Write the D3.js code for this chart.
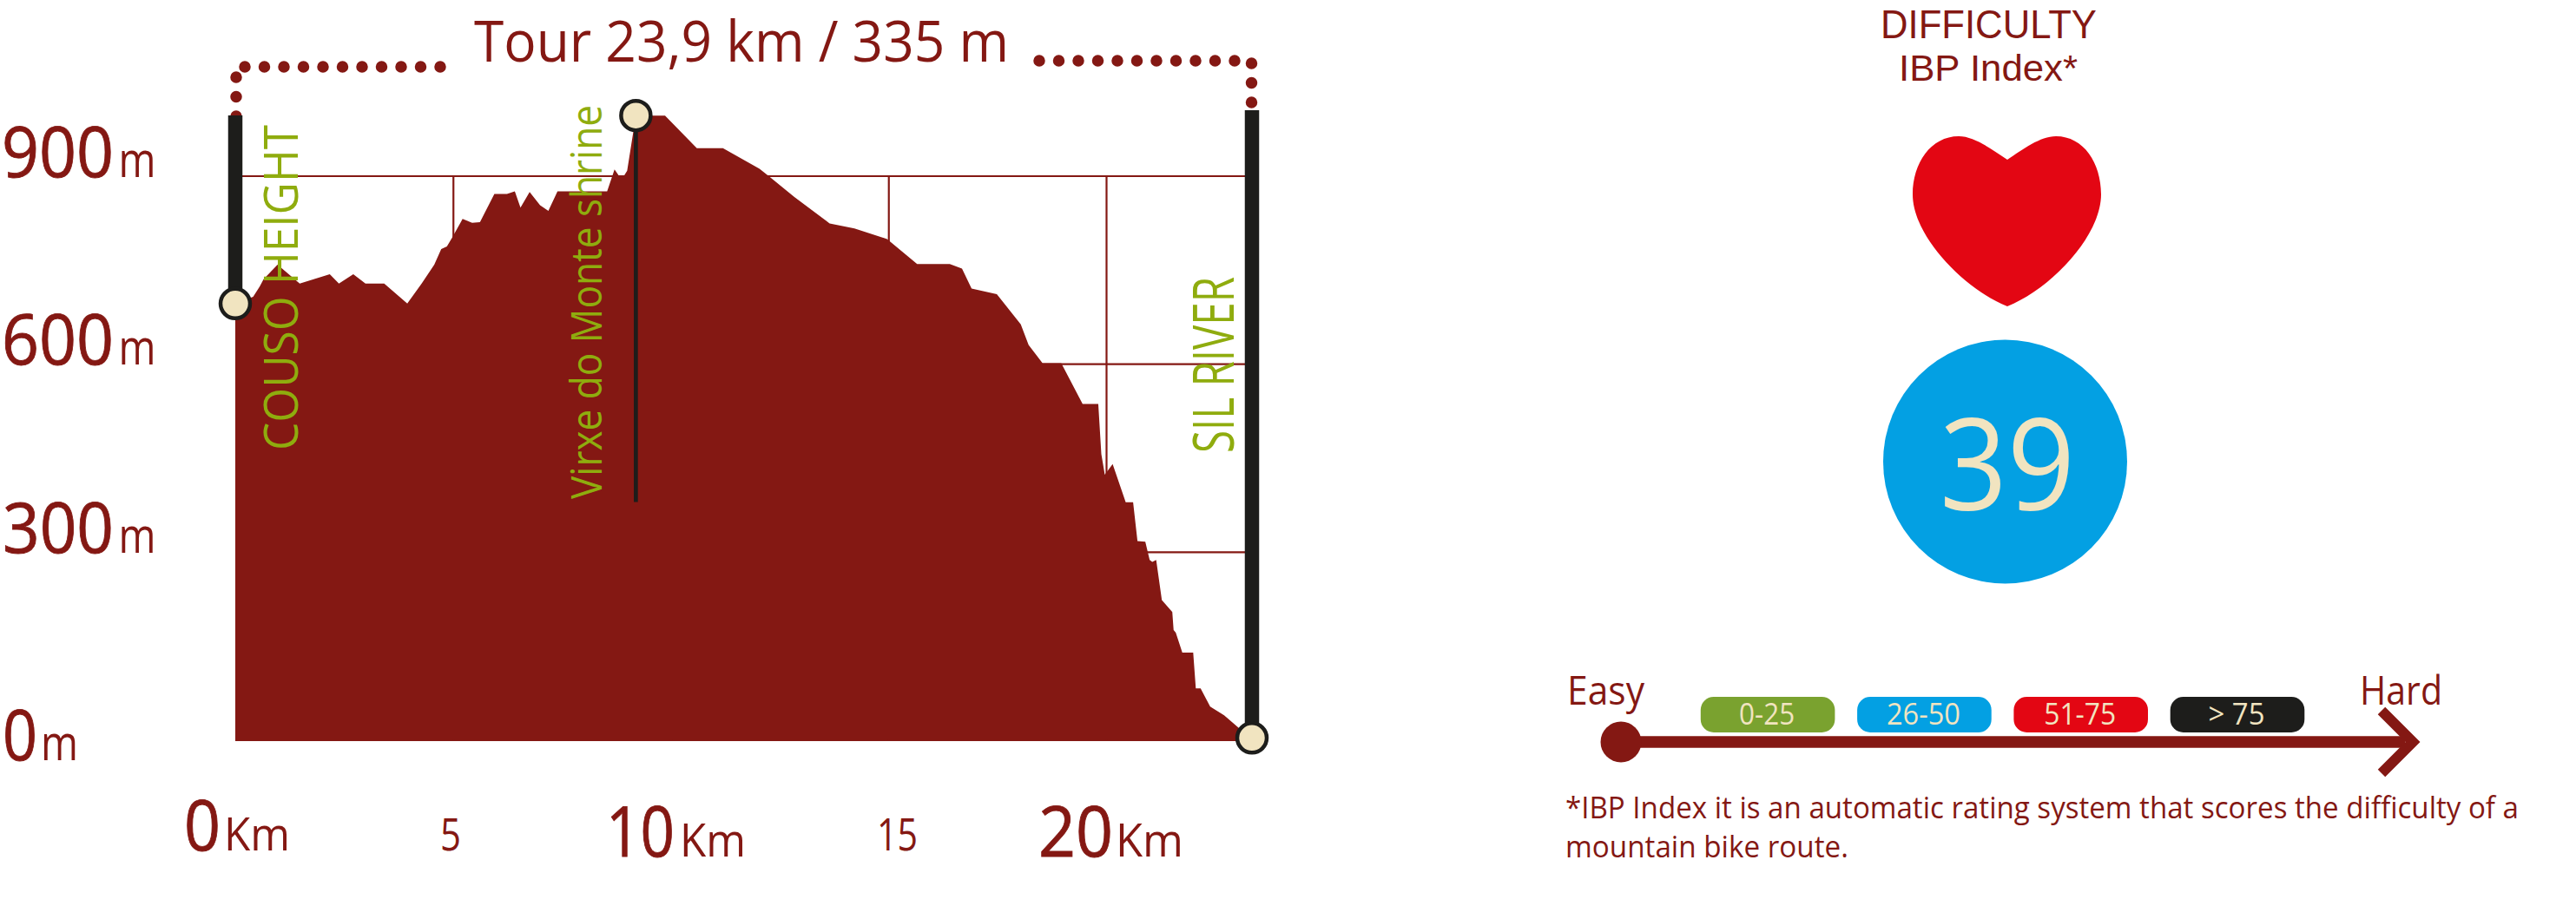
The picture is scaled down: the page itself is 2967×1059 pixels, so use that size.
<!DOCTYPE html>
<html lang="en">
<head>
<meta charset="utf-8">
<script src="https://cdn.jsdelivr.net/npm/d3@7"></script>
<style>
  html, body { margin: 0; padding: 0; background: #fff; }
  svg { display: block; }
  text { font-family: "Open Sans", sans-serif; }
</style>
</head>
<body>
<script>
// values
const distanceKm = [0, 0.41, 0.56, 0.65, 0.97, 1.48, 2.17, 2.38, 2.71, 2.99, 3.42, 3.95, 4.28, 4.57, 4.73, 4.86, 4.97, 5.22, 5.44, 5.62, 5.95, 6.24, 6.42, 6.55, 6.76, 7.0, 7.19, 7.4, 8.54, 8.71, 8.82, 8.91, 9.0, 9.2, 9.87, 10.6, 11.2, 12.04, 12.26, 12.84, 13.65, 14.22, 14.97, 15.66, 16.41, 16.69, 16.91, 17.49, 18.04, 18.22, 18.54, 18.97, 19.46, 19.82, 19.89, 19.97, 20.15, 20.45, 20.62, 20.72, 20.9, 21.0, 21.06, 21.15, 21.28, 21.52, 21.55, 21.6, 21.75, 22.0, 22.06, 22.17, 22.39, 22.71, 23.08, 23.35]
const elevationM = [696, 707, 723, 735, 758, 728, 743, 728, 743, 728, 728, 696, 728, 758, 783, 787, 800, 831, 825, 826, 871, 871, 875, 849, 874, 853, 844, 875, 875, 910, 899, 898, 908, 996, 996, 944, 944, 911, 899, 866, 824, 816, 799, 759, 759, 752, 720, 711, 663, 630, 601, 601, 536, 536, 456, 423, 440, 379, 379, 317, 316, 287, 284, 287, 223, 204, 175, 171, 139, 139, 82, 82, 53, 39, 17, 0]
const yTicks = [0, 300, 600, 900]
const xTicks = [5, 10, 15, 20]
const startKm = 0
const peakKm = 9.2
const endKm = 23.35
const ibpScore = 39
const rangeLabels = ['0-25', '26-50', '51-75', '> 75']
const rangeColors = ['#7aa22f', '#03a0e3', '#e30613', '#1d1d1b']

const w = 2967
const h = 1059
const wine = '#841813'
const green = '#8fac0e'
const black = '#1d1d1b'
const cream = '#f1e4c0'

let svg = d3.select('body')
            .append('svg')
            .attr('width', w)
            .attr('height', h)

// 5 km = 251 px and 300 m = 216.7 px in the reference
let x = d3.scaleLinear().domain([0, 20]).range([271, 1274])
let y = d3.scaleLinear().domain([0, 900]).range([852.5, 202.5])

// text helper, textLength keeps the narrow look of the original type
function label(px, py, str, size, len, fill, rotate) {
   let t = svg.append('text')
              .text(str)
              .attr('font-size', size)
              .attr('fill', fill || wine)
              .attr('transform', 'translate(' + px + ',' + py + ')' + (rotate ? ' rotate(-90)' : ''))
   if (len) {
      t.attr('textLength', len).attr('lengthAdjust', 'spacingAndGlyphs')
   }
   return t
}

// big numerals are a bit heavier in the original
function bigNumber(px, py, str, len) {
   label(px, py, str, 80, len).attr('stroke', wine).attr('stroke-width', 0.9)
}

// grid, drawn with the axes and no labels
let gridY = svg.append('g')
   .attr('transform', 'translate(' + x(0) + ',0)')
   .call(d3.axisRight(y).tickValues(yTicks).tickSize(1434 - x(0)).tickFormat(''))
let gridX = svg.append('g')
   .attr('transform', 'translate(0,' + y(0) + ')')
   .call(d3.axisBottom(x).tickValues(xTicks).tickSize(y(900) - y(0)).tickFormat(''))
gridY.select('.domain').remove()
gridX.select('.domain').remove()
svg.selectAll('.tick line').attr('stroke', wine).attr('stroke-width', 2.2)

// elevation profile
let area = d3.area()
   .x(function(d) { return x(d[0]) })
   .y0(y(0))
   .y1(function(d) { return y(d[1]) })
svg.append('path')
   .datum(d3.zip(distanceKm, elevationM))
   .attr('d', area)
   .attr('fill', wine)

// dotted brackets round the title
function dots(points) {
   svg.append('path')
      .attr('d', d3.line()(points))
      .attr('fill', 'none')
      .attr('stroke', wine)
      .attr('stroke-width', 13.5)
      .attr('stroke-linecap', 'round')
      .attr('stroke-dasharray', '0 22.5')
}
dots([[507, 77], [281, 77]])
dots([[272, 89], [272, 135]])
dots([[1197, 70], [1423, 70]])
dots([[1441.5, 73], [1441.5, 120]])

// place names
label(343, 519, 'COUSO HEIGHT', 55, 375, green, true)
label(693, 575, 'Virxe do Monte shrine', 49, 454, green, true)
label(1420.5, 522, 'SIL RIVER', 66, 203, green, true)

// posts and markers
svg.append('line').attr('x1', x(startKm)).attr('x2', x(startKm)).attr('y1', 133).attr('y2', y(696))
   .attr('stroke', black).attr('stroke-width', 16.5)
svg.append('line').attr('x1', x(endKm)).attr('x2', x(endKm)).attr('y1', 127).attr('y2', y(0))
   .attr('stroke', black).attr('stroke-width', 16.5)
svg.append('line').attr('x1', x(peakKm)).attr('x2', x(peakKm)).attr('y1', y(996)).attr('y2', 578.5)
   .attr('stroke', black).attr('stroke-width', 4.7)

svg.selectAll('circle.stop')
   .data([[startKm, 696], [peakKm, 996], [endKm, 3]])
   .enter()
   .append('circle')
   .attr('class', 'stop')
   .attr('cx', function(d) { return x(d[0]) })
   .attr('cy', function(d) { return y(d[1]) })
   .attr('r', 17)
   .attr('fill', cream)
   .attr('stroke', black)
   .attr('stroke-width', 4.5)

// title and axis labels
label(546, 71, 'Tour 23,9 km / 335 m', 66, 616)

bigNumber(2, 204, '900', 129)
label(136.5, 204, 'm', 56, 43)
bigNumber(2, 420, '600', 129)
label(136.5, 420, 'm', 56, 43)
bigNumber(3, 637, '300', 128)
label(136.5, 637, 'm', 56, 43)
bigNumber(3, 876, '0', 40)
label(47, 876, 'm', 56, 43)

bigNumber(212, 980, '0', 42)
label(258, 980, 'Km', 53, 76)
label(507, 980, '5', 51, 24)
bigNumber(698, 987, '10', 79)
label(783, 987, 'Km', 53, 76)
label(1010, 980, '15', 51, 47)
bigNumber(1196, 987, '20', 86)
label(1285, 987, 'Km', 53, 78)

// difficulty panel
label(2166, 44, 'DIFFICULTY', 47, 249).style('font-family', '"Liberation Sans"')
label(2187, 92.5, 'IBP Index*', 42, 206).style('font-family', '"Liberation Sans"')

svg.append('path')
   .attr('d', 'M2312,184 C2330,172 2350,157 2368,157 C2400,157 2420,188 2420,224 C2420,272 2362,333 2312,353 '
            + 'C2262,333 2203,272 2203,224 C2203,188 2224,157 2256,157 C2274,157 2294,172 2312,184 Z')
   .attr('fill', rangeColors[2])

svg.append('circle')
   .attr('cx', 2309.5)
   .attr('cy', 532)
   .attr('r', 140.5)
   .attr('fill', rangeColors[1])
label(2234, 588, ibpScore, 147, 156, cream)

// easy to hard scale
let band = d3.scaleBand()
   .domain(rangeLabels)
   .range([1958.8, 2654.3])
   .paddingInner(0.1425)
   .paddingOuter(0)

svg.selectAll('rect.range')
   .data(rangeLabels)
   .enter()
   .append('rect')
   .attr('class', 'range')
   .attr('x', function(d) { return band(d) })
   .attr('y', 803)
   .attr('width', band.bandwidth())
   .attr('height', 41)
   .attr('rx', 15)
   .attr('fill', function(d, i) { return rangeColors[i] })

let rangeTextLength = d3.scaleOrdinal().domain(rangeLabels).range([64, 85, 83, 65])

svg.selectAll('text.range')
   .data(rangeLabels)
   .enter()
   .append('text')
   .attr('class', 'range')
   .text(function(d) { return d })
   .attr('x', function(d) { return band(d) + band.bandwidth() / 2 - 1 })
   .attr('y', 835)
   .attr('text-anchor', 'middle')
   .attr('font-size', 34)
   .attr('textLength', function(d) { return rangeTextLength(d) })
   .attr('lengthAdjust', 'spacingAndGlyphs')
   .attr('fill', cream)

svg.append('line').attr('x1', 1867).attr('x2', 2770).attr('y1', 855).attr('y2', 855)
   .attr('stroke', wine).attr('stroke-width', 13.5)
svg.append('circle').attr('cx', 1867).attr('cy', 855).attr('r', 23.5).attr('fill', wine)
svg.append('path')
   .attr('d', 'M2743,819 L2779,855 L2743,891')
   .attr('fill', 'none')
   .attr('stroke', wine)
   .attr('stroke-width', 12)

label(1805, 812, 'Easy', 46, 89)
label(2718, 812, 'Hard', 46, 95)

label(1803, 943, '*IBP Index it is an automatic rating system that scores the difficulty of a', 34, 1098)
label(1803, 988, 'mountain bike route.', 34, 326)
</script>
</body>
</html>
